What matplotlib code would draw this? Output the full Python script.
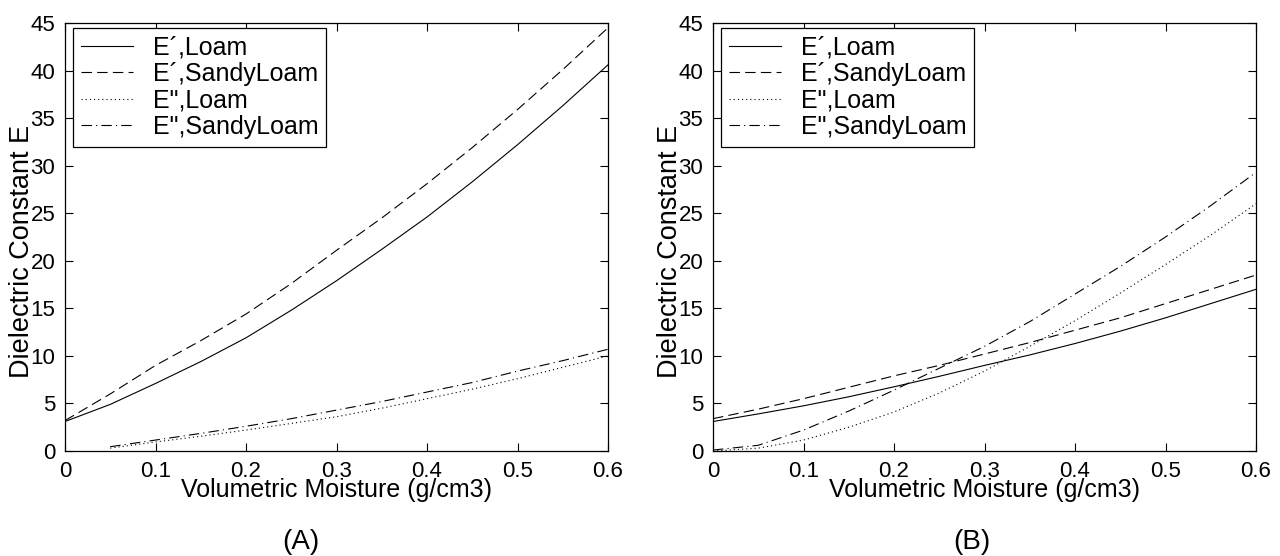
import matplotlib
matplotlib.use("Agg")
import matplotlib.pyplot as plt

plt.rcParams['font.family'] = ['Liberation Sans', 'DejaVu Sans']
plt.rcParams['lines.scale_dashes'] = False

x = [0.0, 0.05, 0.1, 0.15, 0.2, 0.25, 0.3, 0.35, 0.4, 0.45, 0.5, 0.55, 0.6]
x_dd = x[1:]

# Panel (A)
a_ep_loam = [3.1, 4.9, 7.1, 9.4, 11.9, 14.8, 17.9, 21.2, 24.6, 28.3, 32.2, 36.3, 40.6]
a_ep_sandy = [3.2, 6.0, 9.0, 11.6, 14.4, 17.6, 21.1, 24.5, 28.1, 31.9, 35.9, 40.1, 44.5]
a_epp_loam = [0.3, 0.95, 1.55, 2.2, 2.9, 3.6, 4.5, 5.5, 6.5, 7.6, 8.8, 10.0]
a_epp_sandy = [0.45, 1.15, 1.85, 2.6, 3.4, 4.3, 5.2, 6.2, 7.2, 8.4, 9.5, 10.7]

# Panel (B)
b_ep_loam = [3.1, 3.9, 4.75, 5.7, 6.75, 7.85, 9.0, 10.1, 11.3, 12.6, 14.0, 15.5, 17.0]
b_ep_sandy = [3.4, 4.4, 5.5, 6.7, 7.9, 9.0, 10.2, 11.4, 12.7, 14.0, 15.5, 17.0, 18.5]
b_epp_loam = [0.0, 0.3, 1.15, 2.5, 4.1, 6.1, 8.4, 11.0, 13.7, 16.6, 19.6, 22.7, 26.0]
b_epp_sandy = [0.1, 0.6, 2.2, 4.2, 6.4, 8.7, 11.0, 13.6, 16.5, 19.4, 22.5, 25.8, 29.3]

labels = ["E\u00b4,Loam", "E\u00b4,SandyLoam", "E\",Loam", "E\",SandyLoam"]
xticks = [0, 0.1, 0.2, 0.3, 0.4, 0.5, 0.6]
xticklabels = ["0", "0.1", "0.2", "0.3", "0.4", "0.5", "0.6"]
yticks = list(range(0, 46, 5))
xlabel = "Volumetric Moisture (g/cm3)"
ylabel = "Dielectric Constant E"
captions = ["(A)", "(B)"]

W, H = 1280, 556
fig = plt.figure(figsize=(W / 100, H / 100), dpi=100)

axes_px = [(65, 23, 543, 428), (713, 23, 543, 428)]
caption_x = [301, 972]
FS_TICK = 16
FS_XL = 18
FS_YL = 19.5
FS_LEG = 18
FS_CAP = 20
lw = 0.8
styles = [dict(ls='-'), dict(ls=(0, (7.5, 3.8))), dict(ls=(0, (0.8, 2.2))),
          dict(ls=(0, (7.5, 3, 0.8, 3)))]

panels = [
    (x, a_ep_loam, x, a_ep_sandy, x_dd, a_epp_loam, x_dd, a_epp_sandy),
    (x, b_ep_loam, x, b_ep_sandy, x, b_epp_loam, x, b_epp_sandy),
]

for i, (left, top, w, h) in enumerate(axes_px):
    ax = fig.add_axes([left / W, 1 - (top + h) / H, w / W, h / H])
    p = panels[i]
    for k in range(4):
        ax.plot(p[2 * k], p[2 * k + 1], color='black', lw=lw, label=labels[k], **styles[k])
    ax.set_xlim(0, 0.6)
    ax.set_ylim(0, 45)
    ax.set_xticks(xticks)
    ax.set_xticklabels(xticklabels)
    ax.set_yticks(yticks)
    ax.tick_params(direction='in', length=6, width=0.8, top=True, right=True,
                   labelsize=FS_TICK, pad=7, color='black')
    for s in ax.spines.values():
        s.set_linewidth(0.9)
    ax.set_xlabel(xlabel, fontsize=FS_XL)
    ax.xaxis.set_label_coords(0.5, (451 - 497) / h)
    ax.xaxis.label.set_va('baseline')
    ax.set_ylabel(ylabel, fontsize=FS_YL)
    ax.yaxis.set_label_coords(-43 / w, (451 - 251) / h)
    ax.yaxis.label.set_va('center')
    leg = ax.legend(loc='upper left', bbox_to_anchor=(8 / w, 1 - 5 / h),
                    borderaxespad=0, fontsize=FS_LEG, frameon=True, fancybox=False,
                    edgecolor='black', framealpha=1, handlelength=2.1,
                    handletextpad=0.8, labelspacing=0.1, borderpad=0.3)
    leg.get_frame().set_linewidth(0.9)
    fig.text(caption_x[i] / W, 1 - 549 / H, captions[i], fontsize=FS_CAP,
             ha='center', va='baseline')

fig.savefig("out.png", dpi=100)
